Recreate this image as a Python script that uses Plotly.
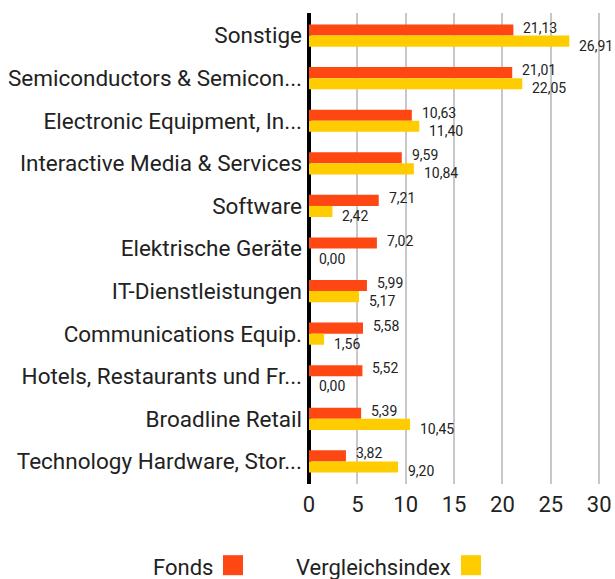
import plotly.graph_objects as go

categories = [
    "Sonstige",
    "Semiconductors & Semicon...",
    "Electronic Equipment, In...",
    "Interactive Media & Services",
    "Software",
    "Elektrische Geräte",
    "IT-Dienstleistungen",
    "Communications Equip.",
    "Hotels, Restaurants und Fr...",
    "Broadline Retail",
    "Technology Hardware, Stor...",
]
fonds = [21.13, 21.01, 10.63, 9.59, 7.21, 7.02, 5.99, 5.58, 5.52, 5.39, 3.82]
vergleich = [26.91, 22.05, 11.40, 10.84, 2.42, 0.00, 5.17, 1.56, 0.00, 10.45, 9.20]
x_ticks = [0, 5, 10, 15, 20, 25, 30]

ORANGE = "#ff4713"
YELLOW = "#ffcc00"
TXT = "#222222"
FONT = "Roboto"

def fmt(v):
    return f"{v:.2f}".replace(".", ",")

fig = go.Figure()
fig.add_trace(go.Bar(y=categories, x=fonds, orientation="h", name="Fonds",
                     marker=dict(color=ORANGE, line=dict(width=0))))
fig.add_trace(go.Bar(y=categories, x=vergleich, orientation="h", name="Vergleichsindex",
                     marker=dict(color=YELLOW, line=dict(width=0))))

annotations = []
for c, f, v in zip(categories, fonds, vergleich):
    annotations.append(dict(x=f, y=c, xref="x", yref="y", text=fmt(f), showarrow=False,
                            xanchor="left", yanchor="middle", xshift=8, yshift=8,
                            font=dict(family=FONT, size=14, color=TXT)))
    annotations.append(dict(x=v, y=c, xref="x", yref="y", text=fmt(v), showarrow=False,
                            xanchor="left", yanchor="middle", xshift=8, yshift=-10,
                            font=dict(family=FONT, size=14, color=TXT)))

# legend built manually: text followed by colour square
annotations.append(dict(x=-0.3176, y=-0.1766, xref="paper", yref="paper", text="Fonds",
                        showarrow=False, xanchor="right", yanchor="middle",
                        font=dict(family=FONT, size=22, color=TXT)))
annotations.append(dict(x=0.4865, y=-0.1766, xref="paper", yref="paper", text="Vergleichsindex",
                        showarrow=False, xanchor="right", yanchor="middle",
                        font=dict(family=FONT, size=22, color=TXT)))
shapes = [
    dict(type="rect", xref="paper", yref="paper", x0=-0.2905, x1=-0.2230, y0=-0.1936, y1=-0.1511,
         fillcolor=ORANGE, line=dict(width=0)),
    dict(type="rect", xref="paper", yref="paper", x0=0.5135, x1=0.5811, y0=-0.1936, y1=-0.1511,
         fillcolor=YELLOW, line=dict(width=0)),
]

fig.update_layout(
    width=615, height=579,
    margin=dict(l=309, r=10, t=13, b=95, autoexpand=False),
    barmode="group", bargap=0.48, bargroupgap=0,
    plot_bgcolor="white", paper_bgcolor="white",
    showlegend=False,
    annotations=annotations, shapes=shapes,
    font=dict(family=FONT, color=TXT),
)
fig.update_xaxes(range=[0, 30.6], tickvals=x_ticks, ticktext=[str(t) for t in x_ticks],
                 showgrid=True, gridcolor="#c8c8c8", gridwidth=2,
                 zeroline=True, zerolinecolor="black", zerolinewidth=4,
                 showline=False, tickfont=dict(family=FONT, size=22, color=TXT),
                 ticks="", ticklabelstandoff=5, fixedrange=True)
fig.update_yaxes(range=[len(categories) - 0.47, -0.53], showgrid=False, showline=False, ticks="",
                 tickfont=dict(family=FONT, size=22.5, color=TXT), ticklabelstandoff=6,
                 fixedrange=True)

fig.write_html("out.html", config={"displayModeBar": False},
               post_script="document.body.style.margin='0';document.body.style.overflow='hidden';")
